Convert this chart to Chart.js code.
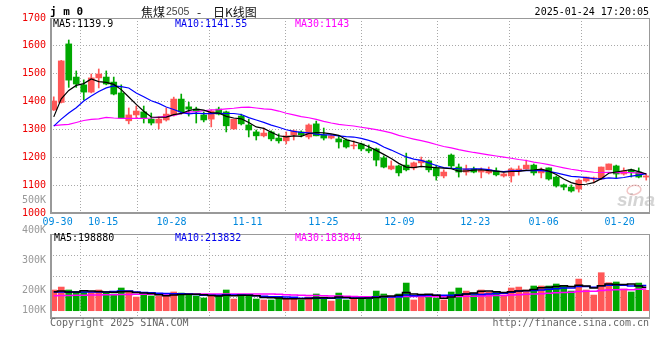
<!DOCTYPE html>
<html><head><meta charset="utf-8">
<script src="https://cdn.jsdelivr.net/npm/chart.js@4.4.1/dist/chart.umd.min.js"></script>
<style>
html,body{margin:0;padding:0;background:#fff;}
#wrap{position:relative;width:660px;height:360px;overflow:hidden;background:#fff;}
#c1{position:absolute;left:0;top:0;}
#c2{position:absolute;left:0;top:222px;}
</style></head><body>
<div id="wrap">
<canvas id="c1" width="660" height="230"></canvas>
<canvas id="c2" width="660" height="138"></canvas>
</div>
<script>
// ---------- data ----------
const dates = ['09-27','09-30','10-08','10-09','10-10','10-11','10-14','10-15','10-16','10-17',
'10-18','10-21','10-22','10-23','10-24','10-25','10-28','10-29','10-30','10-31',
'11-01','11-04','11-05','11-06','11-07','11-08','11-11','11-12','11-13','11-14',
'11-15','11-18','11-19','11-20','11-21','11-22','11-25','11-26','11-27','11-28',
'11-29','12-02','12-03','12-04','12-05','12-06','12-09','12-10','12-11','12-12',
'12-13','12-16','12-17','12-18','12-19','12-20','12-23','12-24','12-25','12-26',
'12-27','12-30','12-31','01-02','01-03','01-06','01-07','01-08','01-09','01-10',
'01-13','01-14','01-15','01-16','01-17','01-20','01-21','01-22','01-23','01-24'];
const tickDates = ['09-30','10-15','10-28','11-11','11-25','12-09','12-23','01-06','01-20'];

const open = [1370,1397,1607,1488,1460,1434,1485,1488,1470,1431,
1331,1352,1363,1337,1323,1334,1352,1409,1381,1373,
1352,1337,1373,1363,1302,1348,1316,1291,1277,1291,
1269,1259,1280,1291,1273,1320,1280,1269,1266,1262,
1241,1248,1230,1230,1198,1158,1169,1172,1162,1180,
1187,1162,1133,1208,1165,1147,1158,1147,1144,1151,
1133,1133,1151,1158,1172,1144,1162,1129,1101,1093,
1086,1115,1122,1122,1155,1169,1140,1155,1147,1129];
const high = [1417,1548,1621,1510,1478,1499,1517,1510,1488,1460,
1377,1384,1384,1359,1345,1377,1416,1427,1398,1380,
1363,1370,1380,1366,1337,1355,1337,1298,1305,1295,
1284,1291,1298,1295,1320,1330,1305,1280,1277,1266,
1259,1251,1244,1233,1205,1187,1172,1215,1183,1201,
1190,1172,1155,1212,1176,1172,1165,1162,1165,1162,
1144,1162,1169,1190,1176,1162,1162,1133,1104,1101,
1122,1129,1129,1165,1176,1172,1162,1158,1162,1140];
const low = [1368,1395,1451,1451,1406,1431,1449,1460,1424,1341,
1320,1341,1323,1316,1302,1330,1348,1355,1348,1323,
1327,1309,1352,1291,1300,1316,1273,1262,1273,1259,
1251,1248,1262,1273,1266,1277,1262,1266,1233,1233,
1230,1223,1216,1169,1162,1155,1133,1151,1155,1165,
1147,1118,1126,1162,1129,1136,1144,1126,1140,1133,
1129,1111,1136,1158,1136,1126,1118,1093,1083,1075,
1075,1111,1108,1120,1155,1126,1136,1129,1126,1118];
const close = [1402,1546,1477,1463,1434,1485,1499,1463,1427,1341,
1352,1366,1341,1323,1337,1355,1409,1363,1373,1366,
1334,1366,1355,1313,1337,1320,1298,1277,1287,1266,
1259,1277,1295,1280,1316,1277,1269,1277,1255,1237,
1244,1230,1223,1190,1165,1169,1144,1155,1180,1190,
1155,1133,1147,1169,1147,1158,1147,1155,1155,1137,
1140,1158,1158,1172,1144,1155,1122,1097,1093,1079,
1118,1129,1126,1165,1176,1140,1151,1147,1129,1133];

const ma5 = [1345,1410,1440,1458,1464.4,1481,1471.6,1468.8,1461.6,1443,
1416.4,1389.8,1365.4,1344.6,1343.8,1344.4,1353,1357.4,1367.4,1373.2,
1369,1360.4,1358.8,1346.8,1341,1338.2,1324.6,1309,1303.8,1289.6,
1277.4,1273.2,1276.8,1275.4,1285.4,1289,1287.4,1283.8,1278.8,1263,
1256.4,1248.6,1237.8,1224.8,1210.4,1195.4,1178.2,1164.6,1162.6,1167.6,
1164.8,1162.6,1161,1158.8,1150.2,1150.8,1153.6,1155.2,1152.4,1150.4,
1146.8,1149,1149.6,1153,1154.4,1157.4,1150.2,1138,1122.2,1109.2,
1101.8,1103.2,1109,1123.4,1142.8,1147.2,1151.6,1155.8,1148.6,1140];
const ma10 = [1312,1337,1359,1378,1402,1420,1436,1449,1456,1453.7,
1448.7,1430.7,1417.1,1403.1,1393.4,1380.4,1371.4,1361.4,1356,1358.5,
1356.7,1356.7,1358.1,1357.1,1357.1,1353.6,1342.5,1333.9,1325.3,1315.3,
1307.8,1298.9,1292.9,1289.6,1287.5,1283.2,1280.3,1280.3,1277.1,1274.2,
1272.7,1268,1260.8,1251.8,1236.7,1225.9,1213.4,1201.2,1193.7,1189,
1180.1,1170.4,1162.8,1160.7,1158.9,1157.8,1158.1,1158.1,1155.6,1150.3,
1148.8,1151.3,1152.4,1152.7,1152.4,1152.1,1149.6,1143.8,1137.6,1131.8,
1129.6,1126.7,1123.5,1122.8,1126,1124.5,1127.4,1132.4,1136,1141.4];
const ma30 = [1314,1316,1318,1325,1332,1336,1338,1343,1341,1340,
1340,1340,1340,1341,1344,1347,1350,1357,1362,1364,
1367,1370,1371,1374,1376,1379,1380,1377,1374,1372,
1366,1358,1352,1346,1342,1336,1329,1323,1318,1315,
1312.4,1307.9,1303.9,1299.5,1293.8,1287.6,1278.7,1271.8,1265.4,1259.5,
1253.5,1245.8,1238.8,1234,1227.7,1222.3,1217.3,1213.2,1208.8,1204.5,
1200.5,1196.6,1192,1188.4,1182.7,1178.6,1173.7,1167.7,1162.3,1157,
1152.8,1149.5,1146.2,1145.4,1145.8,1144.8,1145,1144.8,1143.1,1141.2];

// volume, in thousands of lots
const volume = [176,201,176,159,159,159,176,150,142,193,
167,116,133,125,125,133,159,150,133,125,
108,133,125,176,99,133,133,99,91,91,
116,99,99,91,116,142,116,82,150,91,
99,108,99,167,142,108,142,235,91,116,
116,108,91,159,193,167,150,176,159,159,
133,193,201,176,210,210,210,227,210,167,
269,176,133,323,238,244,184,159,235,173];
const volMa5 = [162,167,160,160,170,168,164,160,157,162,
164,154,150,146,135,128,134,137,139,139,
135,130,126,132,128,132,132,127,113,110,
107,101,101,101,104,108,111,108,117,113,
106,105,108,112,121,124,131,154,142,137,
139,132,106,117,131,142,150,166,167,161,
154,162,168,171,181,196,200,206,212,205,
216,210,192,213,226,222,223,228,211,199];
const volMa10 = [160,160,159,158,158,158,158,160,163,167,
167,160,155,152,148,146,144,144,143,137,
131,132,131,136,134,134,131,127,122,119,
119,116,114,106,107,108,106,105,110,110,
109,109,109,116,119,117,119,133,128,130,
132,132,131,131,135,141,142,137,143,147,
149,157,168,170,172,176,182,187,192,194,
206,205,199,213,216,219,217,211,213,214];
const volMa30 = [128,129,130,131,132,133,134,135,136,137,
138,139,140,140,141,141,142,142,142,142,
142,142,142,142,142,142,142,142,141,141,
139,136,133,131,130,129,127,125,125,122,
120,119,118,119,120,119,119,121,120,120,
120,119,118,118,120,122,122,125,127,129,
130,133,136,139,142,145,148,153,155,157,
163,165,166,172,175,179,181,178,183,184];
const volTickLabels = ['400K','300K','200K','100K'];

const legendMain = ['MA5:1139.9','MA10:1141.55','MA30:1143'];
const legendVol  = ['MA5:198880','MA10:213832','MA30:183844'];
const titleCode = 'j m 0';
const titleName = ['焦煤','2505','-','日K线图'];
const stamp = '2025-01-24 17:20:05';

// ---------- styling ----------
const UP = '#ff5757', DOWN = '#00a800';
const GRID = '#a8a8a8', FRAME = '#999999';
const MONO = "'DejaVu Sans Mono', 'Liberation Mono', monospace";
const colors = close.map((c, i) => c >= open[i] ? UP : DOWN);
const tickIdx = tickDates.map(d => dates.indexOf(d));

const framePlugin = {
  id: 'frame',
  afterDraw(chart) {
    const {ctx, chartArea: a} = chart;
    ctx.save();
    ctx.strokeStyle = FRAME;
    ctx.lineWidth = 1;
    ctx.beginPath();
    ctx.moveTo(a.left, a.top + 0.5); ctx.lineTo(a.right, a.top + 0.5);
    ctx.moveTo(a.right - 0.5, a.top); ctx.lineTo(a.right - 0.5, a.bottom);
    ctx.stroke();
    ctx.lineWidth = 2;
    ctx.beginPath();
    ctx.moveTo(a.left + 1, a.top); ctx.lineTo(a.left + 1, a.bottom + 1);
    ctx.moveTo(a.left, a.bottom); ctx.lineTo(a.right, a.bottom);
    ctx.stroke();
    ctx.restore();
  }
};

function txt(ctx, s, x, y, font, color, align) {
  ctx.font = font; ctx.fillStyle = color; ctx.textAlign = align || 'left';
  ctx.textBaseline = 'middle'; ctx.fillText(s, x, y);
}

const mainText = {
  id: 'mainText',
  afterDraw(chart) {
    const ctx = chart.ctx;
    ctx.save();
    txt(ctx, titleCode, 50, 12, 'bold 11px ' + MONO, '#000');
    txt(ctx, titleName[0], 141, 12, "12px 'Noto Sans CJK SC'", '#111');
    txt(ctx, titleName[1], 166, 12.5, "10.5px 'Liberation Sans', Arial, sans-serif", '#444');
    txt(ctx, titleName[2], 197, 12, "12px 'Noto Sans CJK SC'", '#111');
    txt(ctx, titleName[3], 213, 12, "12px 'Noto Sans CJK SC'", '#111');
    txt(ctx, stamp, 649, 12, '10px ' + MONO, '#000', 'right');
    txt(ctx, legendMain[0], 53, 24, '10px ' + MONO, '#000');
    txt(ctx, legendMain[1], 175, 24, '10px ' + MONO, '#0000ee');
    txt(ctx, legendMain[2], 295, 24, '10px ' + MONO, '#ff00ff');
    txt(ctx, '500K', 46, 200, '10px ' + MONO, '#999', 'right');
    // sina watermark
    ctx.globalAlpha = 0.45;
    ctx.strokeStyle = '#e08080'; ctx.lineWidth = 1.5;
    ctx.beginPath(); ctx.ellipse(634, 190, 7, 4.5, -0.2, 0, Math.PI * 2); ctx.stroke();
    txt(ctx, 'sina', 617, 201, "italic bold 19px 'Liberation Sans', Arial, sans-serif", '#a0a0a0');
    ctx.restore();
  }
};

const volText = {
  id: 'volText',
  afterDraw(chart) {
    const ctx = chart.ctx;
    ctx.save();
    const ys = [8.7, 38.7, 68.7, 88];
    volTickLabels.forEach((s, i) => txt(ctx, s, 46, ys[i], '10px ' + MONO, '#999', 'right'));
    txt(ctx, legendVol[0], 54, 16.3, '10px ' + MONO, '#000');
    txt(ctx, legendVol[1], 175, 16.3, '10px ' + MONO, '#0000ee');
    txt(ctx, legendVol[2], 295, 16.3, '10px ' + MONO, '#ff00ff');
    txt(ctx, 'Copyright 2025 SINA.COM', 50, 101.5, '10px ' + MONO, '#666');
    txt(ctx, 'http://finance.sina.com.cn', 649, 101.5, '10px ' + MONO, '#666', 'right');
    ctx.restore();
  }
};

const lineDs = (data, color, extra) => Object.assign({
  type: 'line', data, borderColor: color, borderWidth: 1.2, pointRadius: 0,
  tension: 0, fill: false, order: 0
}, extra || {});

const x2Axis = (showLabels) => ({
  type: 'linear', position: 'bottom', min: 0, max: dates.length - 1, offset: false,
  grid: {color: GRID, lineWidth: 1, drawTicks: false},
  border: {display: false, dash: [1, 2]},
  ticks: {display: showLabels, autoSkip: false, maxRotation: 0, padding: 3,
          color: '#0088dd', font: {family: MONO, size: 10},
          callback: v => dates[v]},
  afterBuildTicks: s => { s.ticks = tickIdx.map(v => ({value: v})); },
  afterFit: s => { s.height = showLabels ? 17 : 0; }
});

new Chart(document.getElementById('c1'), {
  type: 'bar',
  data: {
    labels: dates,
    datasets: [
      lineDs(ma5, '#000000'),
      lineDs(ma10, '#0000ff'),
      lineDs(ma30, '#ff00ff'),
      {type: 'bar', data: open.map((o, i) => [o, close[i]]), backgroundColor: colors,
       barThickness: 6, grouped: false, borderWidth: 0, order: 1},
      {type: 'bar', data: high.map((h, i) => [low[i], h]), backgroundColor: colors,
       barThickness: 1, grouped: false, borderWidth: 0, order: 2}
    ]
  },
  options: {
    responsive: false, animation: false,
    layout: {padding: {left: 0, right: 10, top: 18, bottom: 0}},
    plugins: {legend: {display: false}, tooltip: {enabled: false}},
    scales: {
      x: {type: 'category', offset: true, display: false},
      x2: x2Axis(true),
      y: {min: 1000, max: 1700,
          ticks: {stepSize: 100, color: '#ee0000', padding: 4, font: {family: MONO, size: 10},
                  callback: v => String(v)},
          grid: {color: GRID, drawTicks: false},
          border: {display: false, dash: [1, 2]},
          afterFit: s => { s.width = 50; }}
    }
  },
  plugins: [framePlugin, mainText]
});

const volMin = -62, volMax = 652;
new Chart(document.getElementById('c2'), {
  type: 'bar',
  data: {
    labels: dates,
    datasets: [
      lineDs(volMa5, '#000000', {stepped: 'middle', borderWidth: 1.5}),
      lineDs(volMa10, '#0000ff', {stepped: 'middle', borderWidth: 1.5}),
      lineDs(volMa30, '#ff00ff', {stepped: 'middle', borderWidth: 1.5}),
      {type: 'bar', data: volume, backgroundColor: colors, barThickness: 6,
       grouped: false, borderWidth: 0, order: 1}
    ]
  },
  options: {
    responsive: false, animation: false,
    layout: {padding: {left: 50, right: 10, top: 12, bottom: 42}},
    plugins: {legend: {display: false}, tooltip: {enabled: false}},
    scales: {
      x: {type: 'category', offset: true, display: false},
      x2: x2Axis(false),
      y: {min: volMin, max: volMax,
          ticks: {display: false},
          grid: {color: GRID, drawTicks: false},
          border: {display: false, dash: [1, 2]},
          afterBuildTicks: s => { const q = (volMax - volMin) / 4;
            s.ticks = [1, 2, 3].map(k => ({value: volMin + q * k})); },
          afterFit: s => { s.width = 0; }}
    }
  },
  plugins: [framePlugin, volText]
});
</script>
</body></html>
